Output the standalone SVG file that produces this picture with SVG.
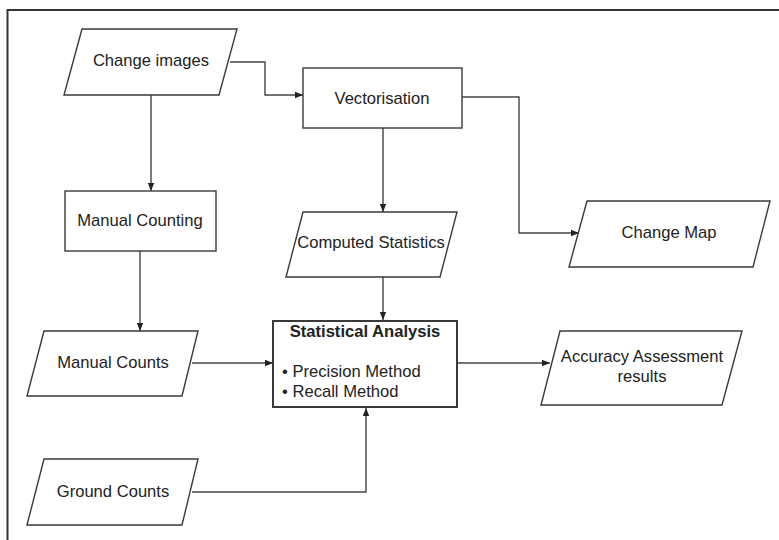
<svg xmlns="http://www.w3.org/2000/svg" width="779" height="540" viewBox="0 0 779 540">
  <defs>
    <marker id="arrow" viewBox="0 0 8 8" refX="8" refY="4" markerWidth="8" markerHeight="8" markerUnits="userSpaceOnUse" orient="auto">
      <path d="M0,0.8 L8,4 L0,7.2 Z" fill="#222"/>
    </marker>
    <style>
      .shape { fill: #fff; stroke: #3a3a3a; stroke-width: 1.4; }
      .box-bold { fill: #fff; stroke: #3a3a3a; stroke-width: 2; }
      .label { font-family: "Liberation Sans", Arial, sans-serif; font-size: 16.6px; fill: #222; text-anchor: middle; }
      .title { font-weight: bold; }
      .left { text-anchor: start; }
      .edge { fill: none; stroke: #444; stroke-width: 1.4; marker-end: url(#arrow); }
      .frame { fill: none; stroke: #333; stroke-width: 2; }
    </style>
  </defs>

  <rect width="779" height="540" fill="#fff"/>

  <!-- outer frame: top and left edges only -->
  <path class="frame" d="M7.5,540 V10 H779"/>

  <!-- connectors -->
  <g id="connectors">
    <path class="edge" d="M230,62 H265 V95 H303"/>
    <path class="edge" d="M151,95 V191"/>
    <path class="edge" d="M140,251 V331"/>
    <path class="edge" d="M383,128 V212"/>
    <path class="edge" d="M462,97 H519 V233 H579"/>
    <path class="edge" d="M383,277 V320"/>
    <path class="edge" d="M192,363 H273"/>
    <path class="edge" d="M457,363 H550"/>
    <path class="edge" d="M192,492 H366 V408"/>
  </g>

  <g id="change-images">
    <polygon class="shape" points="82,29 237,29 219,95 64,95"/>
    <text class="label" x="151" y="66">Change images</text>
  </g>

  <g id="vectorisation">
    <rect class="shape" x="303" y="68" width="159" height="60"/>
    <text class="label" x="382" y="104">Vectorisation</text>
  </g>

  <g id="manual-counting">
    <rect class="shape" x="65" y="191" width="151" height="60"/>
    <text class="label" x="140" y="226">Manual Counting</text>
  </g>

  <g id="computed-statistics">
    <polygon class="shape" points="303,212 457,212 440,277 286,277"/>
    <text class="label" x="371" y="248">Computed Statistics</text>
  </g>

  <g id="change-map">
    <polygon class="shape" points="587,201 770,201 753,267 569,267"/>
    <text class="label" x="669" y="238">Change Map</text>
  </g>

  <g id="manual-counts">
    <polygon class="shape" points="44,331 198,331 182,396 27,396"/>
    <text class="label" x="113" y="368">Manual Counts</text>
  </g>

  <g id="statistical-analysis">
    <rect class="box-bold" x="273" y="321" width="184" height="86"/>
    <text class="label title" x="365" y="337">Statistical Analysis</text>
    <text class="label left" x="282" y="377">• Precision Method</text>
    <text class="label left" x="282" y="397">• Recall Method</text>
  </g>

  <g id="accuracy-assessment">
    <polygon class="shape" points="560,331 742,331 722,405 541,405"/>
    <text class="label" x="642" y="362">Accuracy Assessment</text>
    <text class="label" x="642" y="382">results</text>
  </g>

  <g id="ground-counts">
    <polygon class="shape" points="44,459 198,459 182,525 27,525"/>
    <text class="label" x="113" y="497">Ground Counts</text>
  </g>
</svg>
